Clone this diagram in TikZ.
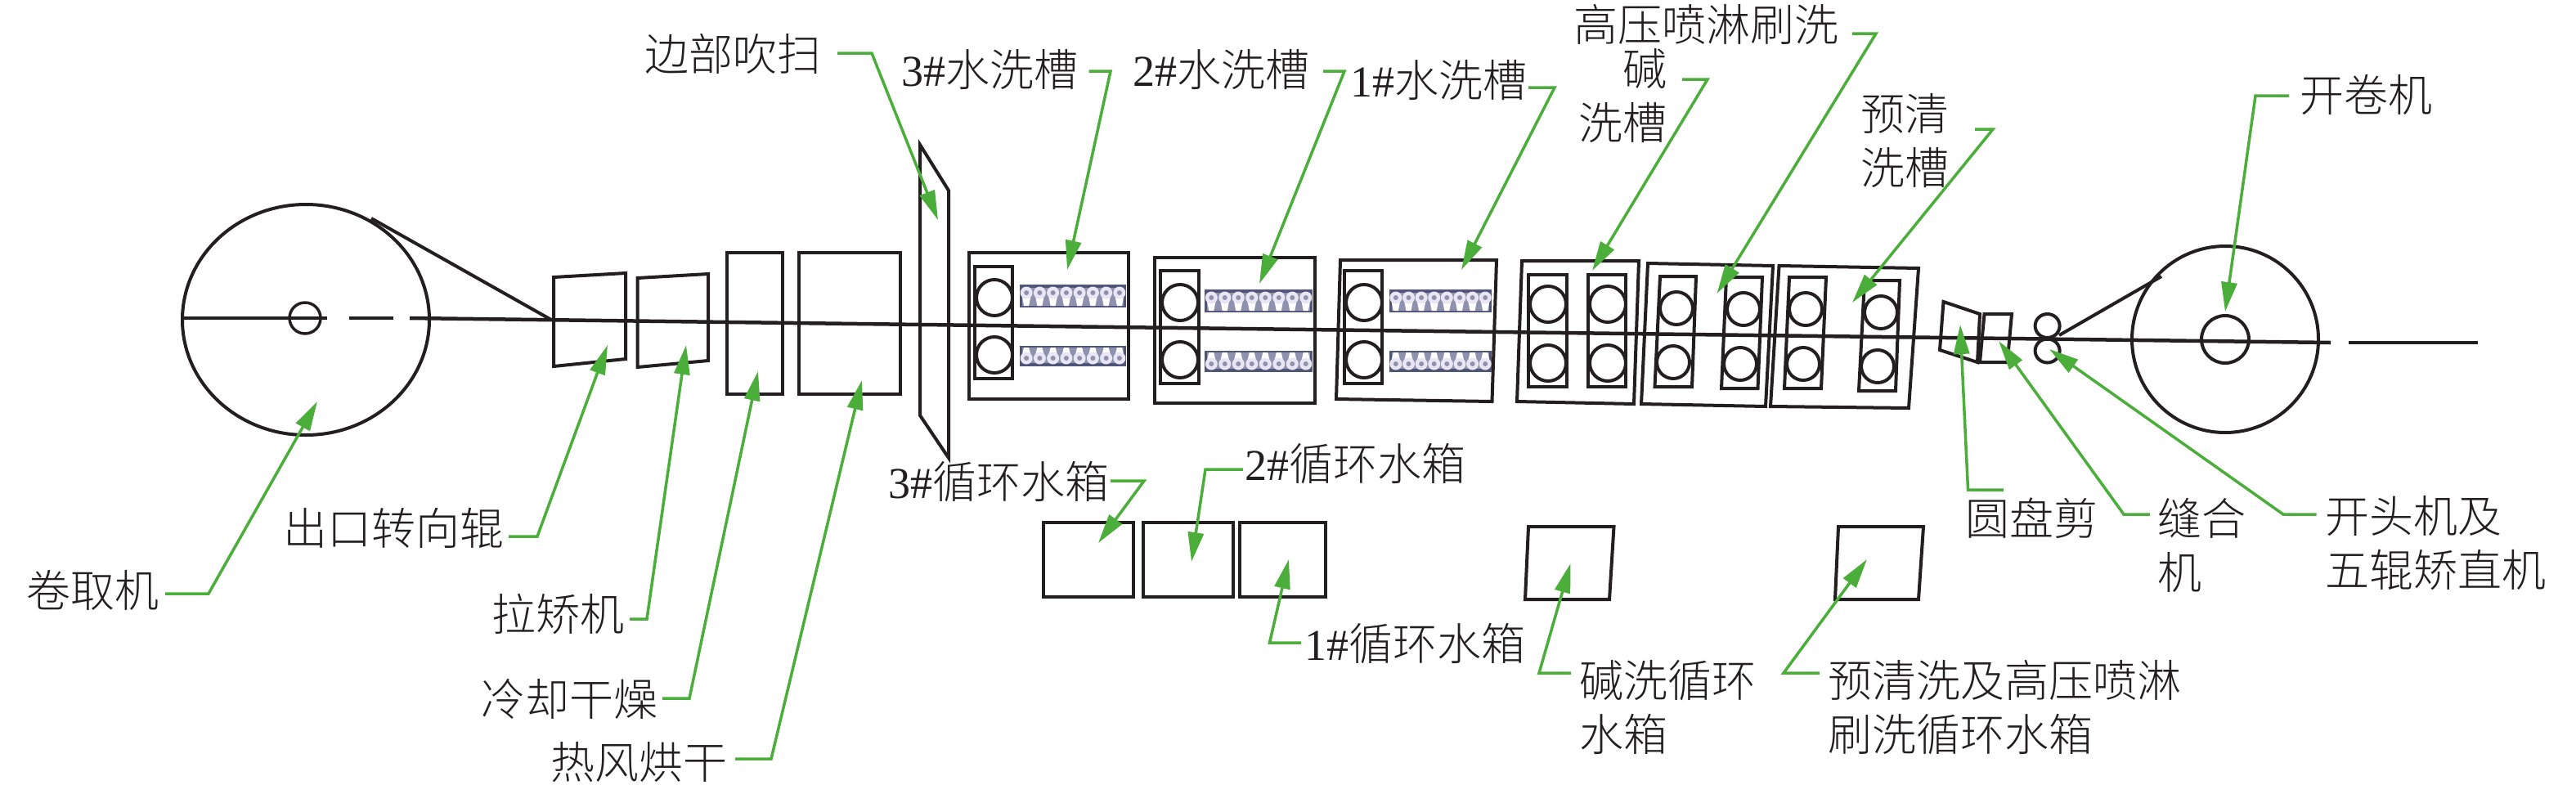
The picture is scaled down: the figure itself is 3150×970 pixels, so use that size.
\documentclass[tikz,border=0pt]{standalone}
\usepackage{fontspec}
\usetikzlibrary{arrows.meta}
\setmainfont{Liberation Serif}
\newfontfamily\cjk[UprightFont={* Light}]{Noto Sans CJK SC}
\definecolor{leadgreen}{HTML}{4BAE3B}
\definecolor{ink}{HTML}{231F20}
\definecolor{meshdark}{HTML}{50557A}
\definecolor{meshmid}{HTML}{8F92AE}
\definecolor{meshlight}{HTML}{E9E5F2}
\tikzset{
  mach/.style={draw=ink,line width=4pt,line join=miter},
  strip/.style={draw=ink,line width=4.5pt},
  leadline/.style={draw=leadgreen,line width=3.5pt,line join=miter,-{Triangle[length=36pt,width=19pt]}},
  lab/.style={inner sep=0pt,outer sep=0pt,anchor=north west,text=ink,font=\fontsize{54}{66}\selectfont\cjk},
}
% label: name, left x, centre y of first line, alignment, text
\newcommand{\lab}[5]{\node[lab,align=#4] (#1) at (#2,#3-30) {\rule{0pt}{50pt}#5};}
\newcommand{\lat}[1]{{\rmfamily #1}}
% leader: name, start, elbow, tip
\newcommand{\leader}[4]{%
  \coordinate (#1-s) at (#2); \coordinate (#1-e) at (#3); \coordinate (#1-t) at (#4);
  \draw[leadline] (#1-s) -- (#1-e) -- (#1-t);}
% roller: x, y, radius
\newcommand{\roller}[3]{\draw[mach] (#1,#2) circle (#3);}
% mesh bar: x, mid y, width, height, flip
\newcommand{\meshbar}[5]{%
  \begin{scope}[shift={(#1,#2)},yscale=#5]
    \fill[meshdark] (0,-#4/2) rectangle (#3,#4/2);
    \fill[meshmid] (3,-#4/2+4) rectangle (#3-3,#4/2-2);
    \foreach \i in {0,...,7}{
      \pgfmathsetmacro{\cx}{(\i+0.5)*#3/8}
      \fill[white] (\cx-5.5,-#4/2+13) -- (\cx+5.5,-#4/2+13) -- (\cx+3,#4/2-2) -- (\cx-3,#4/2-2) -- cycle;
      \fill[meshlight] (\cx,-#4/2+10) circle (7.5);
      \fill[meshmid] (\cx,-#4/2+10) circle (3);
    }
  \end{scope}}
\begin{document}
\begin{tikzpicture}[x=1pt,y=-1pt]
\useasboundingbox (0,0) rectangle (3150,970);
\fill[white] (0,0) rectangle (3150,970);

% coiler
\draw[mach] (374,391) ellipse [x radius=151,y radius=141];
\draw[mach,line width=3.5pt] (373,389) circle (19);
\draw[strip] (225,389) -- (400,389);
\draw[strip] (427,389) -- (481,389);
\draw[strip] (501,389) -- (2850,419);
\draw[strip] (2872,419) -- (3030,419);
\draw[mach] (454,267) -- (674,391);

% exit units
\draw[mach] (677,339) -- (765,334) -- (765,439) -- (677,448) -- cycle;
\draw[mach] (779.5,340) -- (866,335) -- (866,441) -- (779.5,449) -- cycle;
\draw[mach] (889,309) rectangle (957,482);
\draw[mach] (977,309) rectangle (1101,482);
\draw[mach] (1125,177) -- (1160,233) -- (1160,560) -- (1125,508) -- cycle;

% 3# rinse
\draw[mach] (1185,309) rectangle (1380,488);
\draw[mach] (1192,326) rectangle (1238,463);
\roller{1216}{364}{22}\roller{1216}{434}{22}
\meshbar{1247}{362}{130}{28}{1}\meshbar{1247}{435.5}{130}{25}{-1}
% 2# rinse
\draw[mach] (1412,315) rectangle (1608,493);
\draw[mach] (1419,331) rectangle (1466,469);
\roller{1443}{370}{22}\roller{1443}{440}{22}
\meshbar{1473}{368}{132}{28}{1}\meshbar{1473}{442}{132}{26}{-1}
% 1# rinse
\draw[mach] (1639,318) -- (1830,318) -- (1824.5,491) -- (1634,488) -- cycle;
\draw[mach] (1644,331) rectangle (1690,469);
\roller{1668}{370}{22}\roller{1668}{440}{22}
\meshbar{1699}{368}{125}{28}{1}\meshbar{1699}{442}{125}{26}{-1}
% alkali
\draw[mach] (1861,319) -- (2004,319) -- (1998,494) -- (1855,491) -- cycle;
\draw[mach] (1869,336) rectangle (1916,473);
\draw[mach] (1942,336) rectangle (1988,473);
\roller{1893}{372}{22}\roller{1893}{444}{22}\roller{1966}{372}{22}\roller{1966}{444}{22}
% high pressure
\draw[mach] (2015,322) -- (2168,325) -- (2159,497) -- (2007,494) -- cycle;
\draw[mach] (2030,338) -- (2074,338) -- (2069,473) -- (2023.5,473) -- cycle;
\draw[mach] (2111,339) -- (2155,339) -- (2149.5,475) -- (2105,475) -- cycle;
\roller{2050}{377}{20}\roller{2046}{443}{20}\roller{2132}{378}{20}\roller{2128}{445}{20}
% pre-clean
\draw[mach] (2175.5,325) -- (2346,328) -- (2334,499) -- (2165,497) -- cycle;
\draw[mach] (2188,339) -- (2233,339) -- (2227,475) -- (2182,475) -- cycle;
\draw[mach] (2280,343) -- (2323,343) -- (2318,478) -- (2273,478) -- cycle;
\roller{2208}{378}{20}\roller{2205}{445}{20}\roller{2300}{382}{20}\roller{2296}{448}{20}
% shear, stitcher, leveller
\draw[mach] (2376.5,369) -- (2421,384) -- (2418,443) -- (2372,428) -- cycle;
\draw[mach] (2426.5,384) -- (2460,384) -- (2454.6,443) -- (2421,443) -- cycle;
\draw[mach] (2503.6,398.5) ellipse [x radius=15,y radius=14.5];
\draw[mach] (2503.6,429) ellipse [x radius=15,y radius=14.5];
% uncoiler
\draw[mach] (2721,415) circle (114);
\draw[mach] (2721,415) circle (29);
\draw[mach] (2518,410) -- (2643,338);

% tanks
\draw[mach] (1276,639) rectangle (1386,730);
\draw[mach] (1398,639) rectangle (1508,730);
\draw[mach] (1516,639) rectangle (1621,730);
\draw[mach] (1869,644) -- (1973.5,644) -- (1968,733) -- (1865,733) -- cycle;
\draw[mach] (2248,644) -- (2352,644) -- (2346,733) -- (2244,733) -- cycle;

% labels
\lab{l1}{32}{722}{left}{卷取机}
\lab{l2}{346}{646}{left}{出口转向辊}
\lab{l3}{601}{751}{left}{拉矫机}
\lab{l4}{588}{855}{left}{冷却干燥}
\lab{l5}{673}{932}{left}{热风烘干}
\lab{l6}{788}{66}{left}{边部吹扫}
\lab{l7}{1102}{85}{left}{\lat{3\#}水洗槽}
\lab{l8}{1385}{85}{left}{\lat{2\#}水洗槽}
\lab{l9}{1651}{98}{left}{\lat{1\#}水洗槽}
\lab{l10}{1924}{30}{left}{高压喷淋刷洗}
\lab{l11}{1930}{84}{right}{碱\\洗槽}
\lab{l12}{2275}{139}{left}{预清\\洗槽}
\lab{l13}{2812}{116}{left}{开卷机}
\lab{l14}{1086}{589}{left}{\lat{3\#}循环水箱}
\lab{l15}{1522}{567}{left}{\lat{2\#}循环水箱}
\lab{l16}{1595}{787}{left}{\lat{1\#}循环水箱}
\lab{l17}{1931}{832}{left}{碱洗循环\\水箱}
\lab{l18}{2235}{832}{left}{预清洗及高压喷淋\\刷洗循环水箱}
\lab{l19}{2403}{634}{left}{圆盘剪}
\lab{l20}{2638}{634}{left}{缝合\\机}
\lab{l21}{2843}{631}{left}{开头机及\\五辊矫直机}

% leaders
\leader{a1}{202,726}{255,726}{388,491}
\leader{a2}{622,656}{657,656}{743,422}
\leader{a3}{770,757}{791,757}{839,422}
\leader{a4}{810,854}{843,854}{927,454}
\leader{a5}{899,928}{943,928}{1054,465}
\leader{a6}{1024,65}{1066,65}{1147,269}
\leader{a7}{1331.5,87}{1358,87}{1305,330}
\leader{a8}{1618,87}{1644,87}{1540,347}
\leader{a9}{1869,107}{1901,107}{1787,330}
\leader{a10}{2265,41}{2294,41}{2099.5,359}
\leader{a11}{2057,97}{2088,97}{1947,331}
\leader{a12}{2415,158}{2437,158}{2265,370}
\leader{a13}{2799,117}{2758,117}{2721,381}
\leader{a14}{1358,588}{1399,588}{1343,664}
\leader{a15}{1520,574}{1474,574}{1457,687}
\leader{a16}{1591,786}{1552.5,786}{1576,684}
\leader{a17}{1921,823}{1882,823}{1920.5,689}
\leader{a18}{2225,823}{2181,823}{2283,684}
\leader{a19}{2450,599}{2406.5,599}{2397,397}
\leader{a20}{2629,629}{2597,629}{2444,417}
\leader{a21}{2832.5,629}{2792,629}{2506,427}
\end{tikzpicture}
\end{document}
